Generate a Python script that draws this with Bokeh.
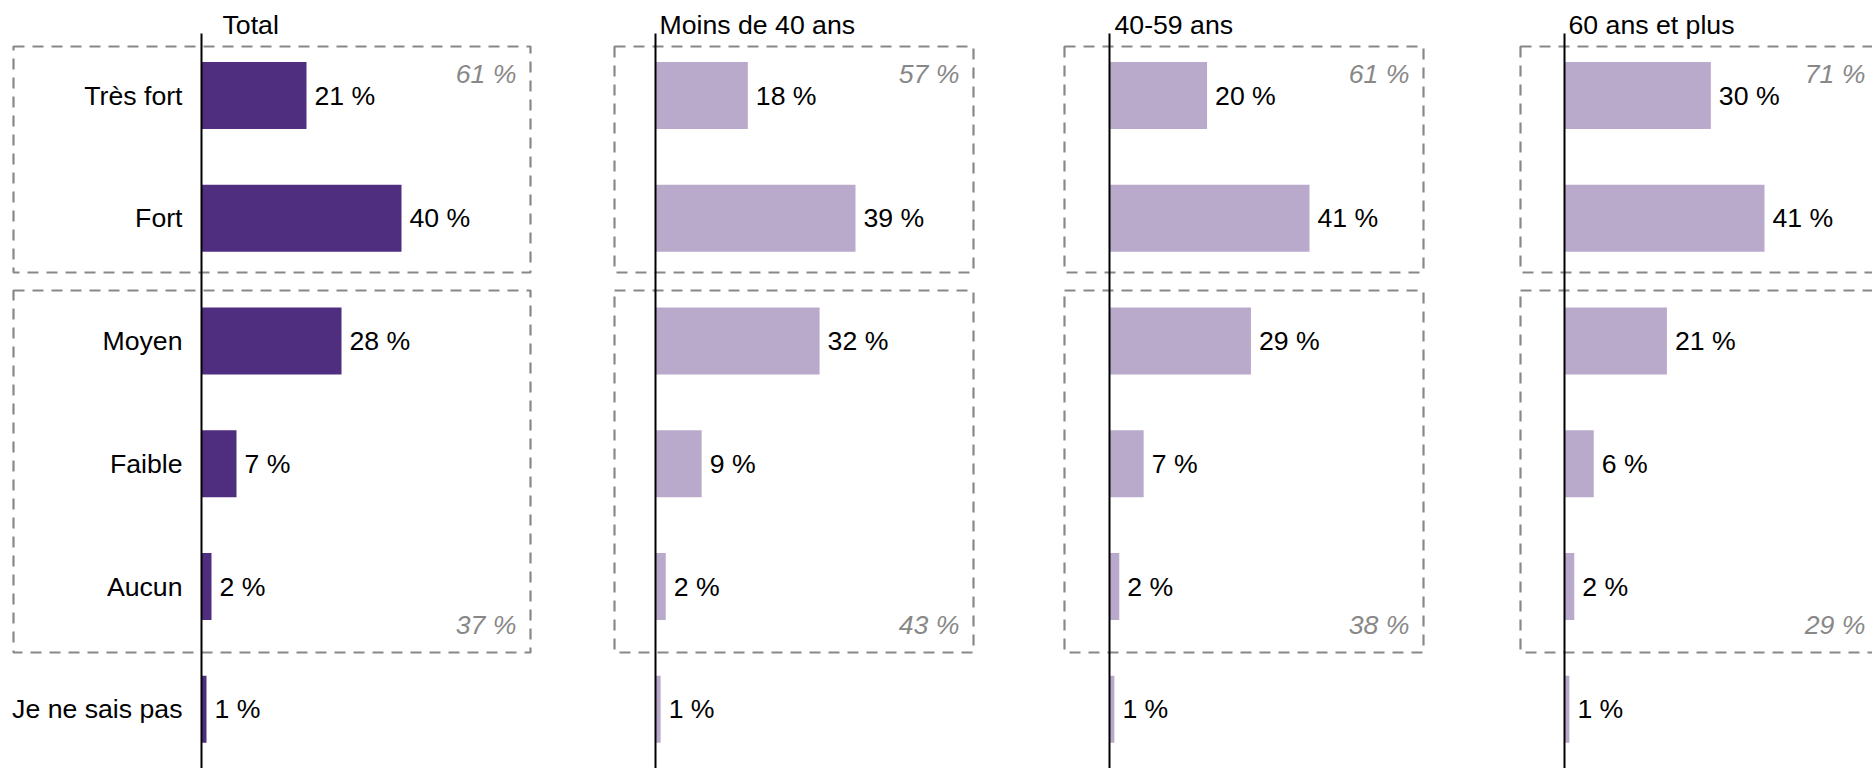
from bokeh.plotting import figure
from bokeh.models import Range1d
from bokeh.layouts import row
from bokeh.embed import file_html
from bokeh.resources import INLINE
from bokeh.core.properties import value

# ---------------- data ----------------
categories = ["Très fort", "Fort", "Moyen", "Faible", "Aucun", "Je ne sais pas"]
panel_titles = ["Total", "Moins de 40 ans", "40-59 ans", "60 ans et plus"]
total = [21, 40, 28, 7, 2, 1]
moins_40 = [18, 39, 32, 9, 2, 1]
ans_40_59 = [20, 41, 29, 7, 2, 1]
plus_60 = [30, 41, 21, 6, 2, 1]
group_top_pct = [61, 57, 61, 71]      # Très fort + Fort
group_bottom_pct = [37, 43, 38, 29]   # Moyen + Faible + Aucun

series = [total, moins_40, ans_40_59, plus_60]

# ---------------- style / layout ----------------
DARK = "#4F2D7F"
LIGHT = "#B9AACB"
colors = [DARK, LIGHT, LIGHT, LIGHT]
GREY = "#888888"
FONT = value("Liberation Sans")
FSIZE = "26.67px"

H = 768
ROW_PX = 122.75
ROW0_PX = 95.0          # in-figure y of first row centre
BAR_H = 0.546
MAX_BAR_PX = 200.0

fig_left = [0, 572, 1018, 1471]
fig_width = [572, 446, 453, 401]
axis_page_x = [201, 655, 1109, 1564]
box_left_off = [-188, -41, -45, -44]
box_right_off = [329, 318, 314, 315]
title_off = [21, 4, 5, 4]


def ypx(p):
    return (p - ROW0_PX) / ROW_PX


y_top = ypx(0)
y_bot = ypx(H)

figs = []
for i in range(4):
    vals = series[i]
    s = MAX_BAR_PX / max(vals)       # px per percent
    left_px = fig_left[i] - axis_page_x[i]
    x0 = left_px / s
    x1 = (left_px + fig_width[i]) / s
    p = figure(width=fig_width[i], height=H,
               x_range=Range1d(x0, x1), y_range=Range1d(y_bot, y_top),
               output_backend="svg", toolbar_location=None,
               min_border=0, min_border_left=0, min_border_right=0,
               min_border_top=0, min_border_bottom=0,
               x_axis_location=None, y_axis_location=None)
    p.outline_line_color = None
    p.xgrid.visible = False
    p.ygrid.visible = False
    p.background_fill_color = "white"
    p.border_fill_color = "white"

    rows_idx = list(range(len(categories)))

    # dashed group boxes
    bl = box_left_off[i] / s
    br = box_right_off[i] / s
    tops = [ypx(46), ypx(290)]
    bots = [ypx(272), ypx(652)]
    p.quad(left=[bl, bl], right=[br, br], top=tops, bottom=bots,
           fill_color=None, line_color=GREY, line_width=2.2, line_dash="11 8")

    # bars
    p.hbar(y=rows_idx, left=0, right=vals, height=BAR_H,
           fill_color=colors[i], line_color=None)

    # axis line
    p.segment(x0=[0], y0=[ypx(33)], x1=[0], y1=[y_bot],
              line_color="black", line_width=2)

    # value labels
    p.text(x=vals, y=rows_idx, text=[f"{v} %" for v in vals],
           x_offset=8, text_baseline="middle", text_align="left",
           text_font=FONT, text_font_size=FSIZE, text_color="black")

    # panel title
    p.text(x=[0], y=[ypx(24)], text=[panel_titles[i]], x_offset=title_off[i],
           text_baseline="middle", text_align="left",
           text_font=FONT, text_font_size=FSIZE, text_color="black")

    # group totals
    p.text(x=[br, br], y=[tops[0] + 27 / ROW_PX, bots[1] - 27.5 / ROW_PX],
           text=[f"{group_top_pct[i]} %", f"{group_bottom_pct[i]} %"],
           x_offset=-14, text_baseline="middle", text_align="right",
           text_font=FONT, text_font_size=FSIZE, text_font_style="italic",
           text_color=GREY)

    # category labels (first panel only)
    if i == 0:
        p.text(x=[0] * len(categories), y=rows_idx, text=categories,
               x_offset=-19, text_baseline="middle", text_align="right",
               text_font=FONT, text_font_size=FSIZE, text_color="black")

    figs.append(p)

layout = row(*figs, spacing=0)
open("out.html", "w").write(file_html(layout, INLINE))
